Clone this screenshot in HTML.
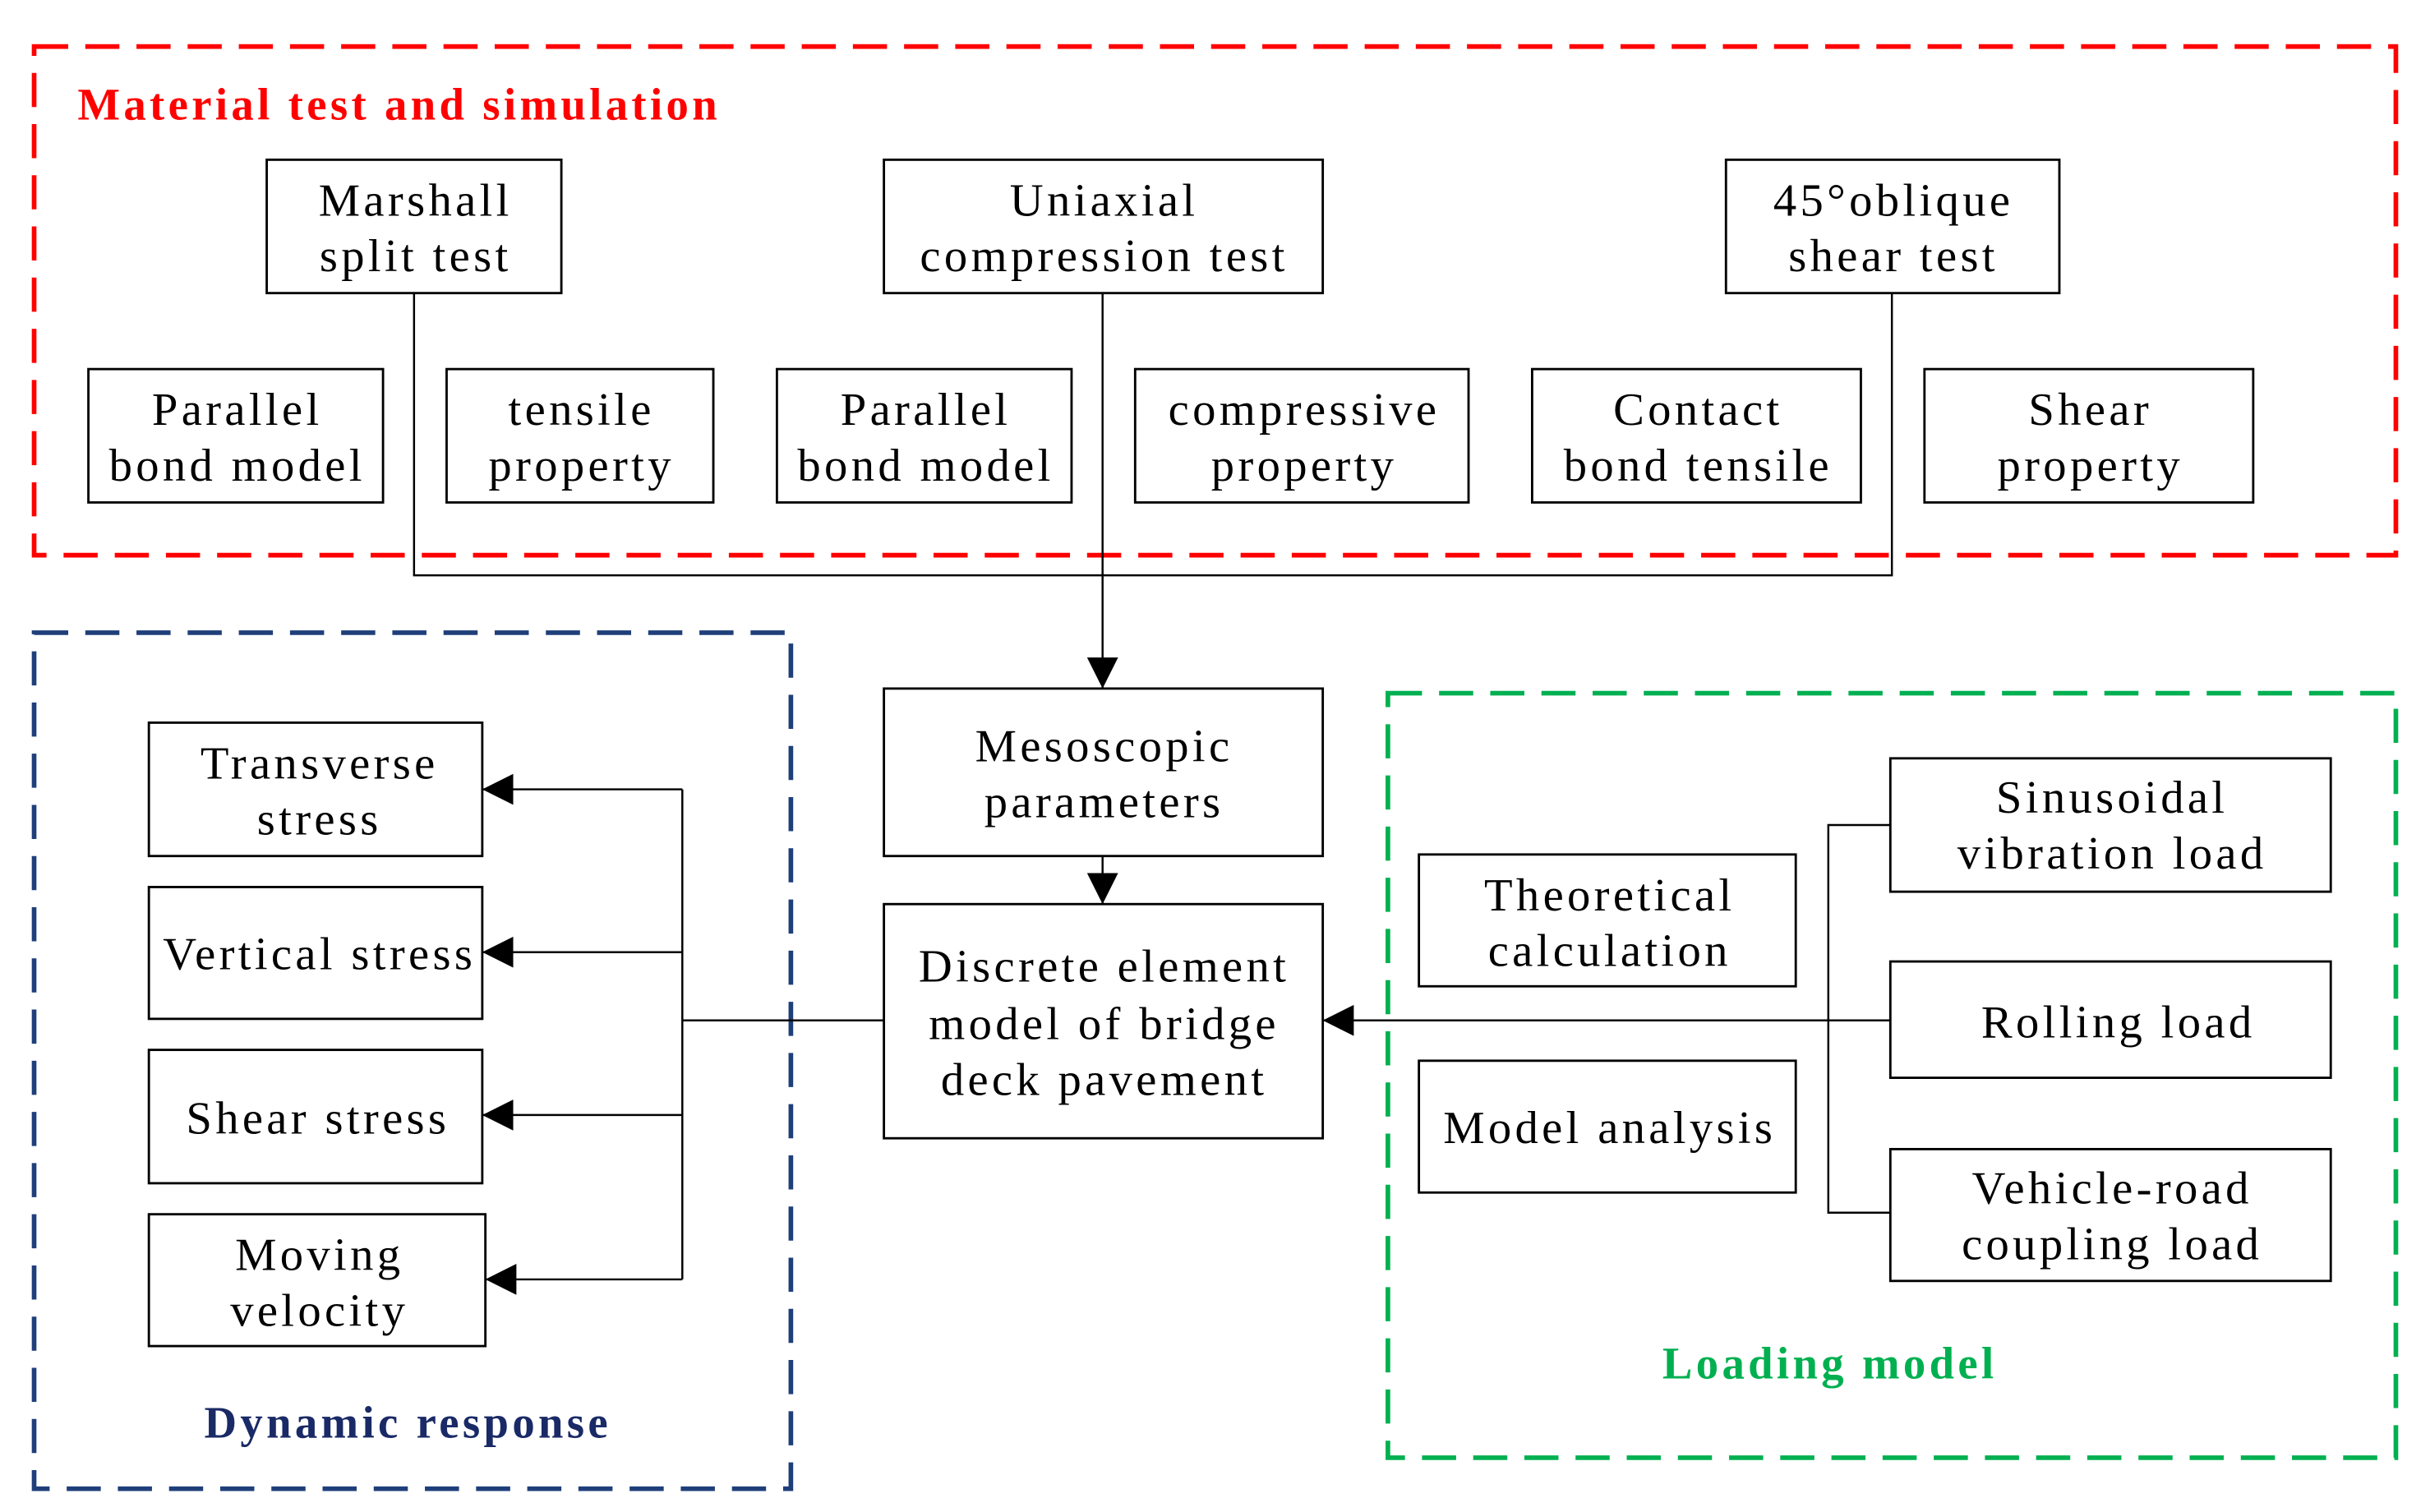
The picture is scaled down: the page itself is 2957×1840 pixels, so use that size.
<!DOCTYPE html>
<html><head><meta charset="utf-8"><style>
html,body{margin:0;padding:0;background:#fff;}
svg{display:block;}
text{font-family:"Liberation Serif",serif;font-size:30px;fill:#000;letter-spacing:2.3px;}
.t{font-weight:bold;font-size:29px;letter-spacing:2.3px;}
</style></head><body>
<svg width="2957" height="1840" viewBox="0 0 1567 975" preserveAspectRatio="none" xmlns="http://www.w3.org/2000/svg">
<defs>
<marker id="b" viewBox="0 0 10 10" markerWidth="20" markerHeight="20" refX="10" refY="5" orient="auto" markerUnits="userSpaceOnUse"><path d="M0,0 L10,5 L0,10z" fill="#000"/></marker></defs>
<g fill="none" stroke-width="3" stroke-dasharray="22,11">
<rect x="22" y="30" width="1523" height="328" stroke="#ff0000"/>
<rect x="22" y="408" width="488" height="552" stroke="#1f3f7a"/>
<rect x="895" y="447" width="650" height="493" stroke="#00b050"/>
</g>
<text class="t" x="50" y="77" style="fill:#ff0000">Material test and simulation</text>
<text class="t" x="263" y="927" text-anchor="middle" style="fill:#1a2a66">Dynamic response</text>
<text class="t" x="1180" y="889" text-anchor="middle" style="fill:#00b050">Loading model</text>
<g fill="#fff" stroke="#000" stroke-width="1.5">
<rect x="172" y="103" width="190" height="86"/><rect x="570" y="103" width="283" height="86"/><rect x="1113" y="103" width="215" height="86"/>
<rect x="57" y="238" width="190" height="86"/><rect x="288" y="238" width="172" height="86"/><rect x="501" y="238" width="190" height="86"/>
<rect x="732" y="238" width="215" height="86"/><rect x="988" y="238" width="212" height="86"/><rect x="1241" y="238" width="212" height="86"/>
<rect x="96" y="466" width="215" height="86"/><rect x="96" y="572" width="215" height="85"/><rect x="96" y="677" width="215" height="86"/><rect x="96" y="783" width="217" height="85"/>
<rect x="570" y="444" width="283" height="108"/><rect x="570" y="583" width="283" height="151"/>
<rect x="915" y="551" width="243" height="85"/><rect x="915" y="684" width="243" height="85"/>
<rect x="1219" y="489" width="284" height="86"/><rect x="1219" y="620" width="284" height="75"/><rect x="1219" y="741" width="284" height="85"/>
</g>
<g fill="none" stroke="#000" stroke-width="1.3">
<polyline points="267,189 267,371 1220,371 1220,189"/>
<line x1="711" y1="189" x2="711" y2="444" marker-end="url(#b)"/>
<line x1="711" y1="552" x2="711" y2="583" marker-end="url(#b)"/>
<line x1="440" y1="509" x2="440" y2="825"/>
<line x1="440" y1="658" x2="570" y2="658"/>
<line x1="440" y1="509" x2="311" y2="509" marker-end="url(#b)"/>
<line x1="440" y1="614" x2="311" y2="614" marker-end="url(#b)"/>
<line x1="440" y1="719" x2="311" y2="719" marker-end="url(#b)"/>
<line x1="440" y1="825" x2="313" y2="825" marker-end="url(#b)"/>
<polyline points="1219,532 1179,532 1179,782 1219,782"/>
<line x1="1219" y1="658" x2="853" y2="658" marker-end="url(#b)"/>
</g>
<g text-anchor="middle">
<text x="268" y="139">Marshall</text><text x="268" y="175">split test</text>
<text x="712" y="139">Uniaxial</text><text x="712" y="175">compression test</text>
<text x="1221" y="139">45°oblique</text><text x="1221" y="175">shear test</text>
<text x="153" y="274">Parallel</text><text x="153" y="310">bond model</text>
<text x="375" y="274">tensile</text><text x="375" y="310">property</text>
<text x="597" y="274">Parallel</text><text x="597" y="310">bond model</text>
<text x="841" y="274">compressive</text><text x="841" y="310">property</text>
<text x="1095" y="274">Contact</text><text x="1095" y="310">bond tensile</text>
<text x="1348" y="274">Shear</text><text x="1348" y="310">property</text>
<text x="206" y="502">Transverse</text><text x="206" y="538">stress</text>
<text x="206" y="625">Vertical stress</text>
<text x="205" y="731">Shear stress</text>
<text x="206" y="819">Moving</text><text x="206" y="855">velocity</text>
<text x="712" y="491">Mesoscopic</text><text x="712" y="527">parameters</text>
<text x="712" y="633">Discrete element</text><text x="712" y="670">model of bridge</text><text x="712" y="706">deck pavement</text>
<text x="1038" y="587">Theoretical</text><text x="1038" y="623">calculation</text>
<text x="1038" y="737">Model analysis</text>
<text x="1362" y="524">Sinusoidal</text><text x="1362" y="560">vibration load</text>
<text x="1366" y="669">Rolling load</text>
<text x="1362" y="776">Vehicle-road</text><text x="1362" y="812">coupling load</text>
</g>
</svg>
</body></html>
